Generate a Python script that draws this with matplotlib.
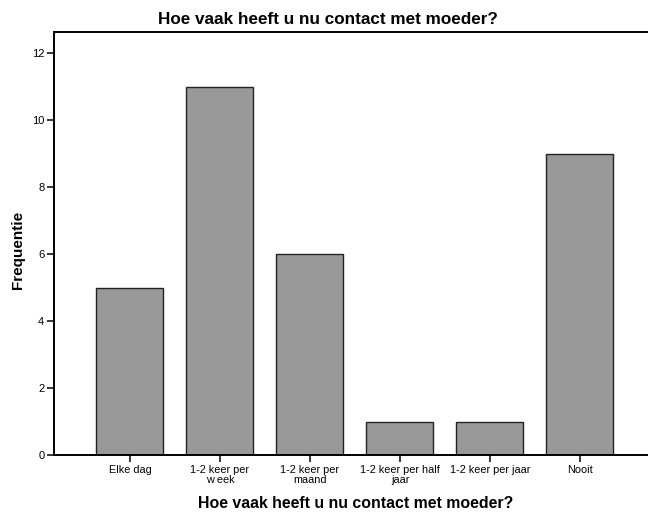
import matplotlib.pyplot as plt
import numpy as np

plt.rcParams["font.family"] = ["Liberation Sans", "DejaVu Sans"]

categories = ["Elke dag", "1-2 keer per\nw eek", "1-2 keer per\nmaand",
              "1-2 keer per half\njaar", "1-2 keer per jaar", "Nooit"]
counts = [5, 11, 6, 1, 1, 9]
yticks = [0, 2, 4, 6, 8, 10, 12]

title = "Hoe vaak heeft u nu contact met moeder?"

W, H = 648, 516
fig = plt.figure(figsize=(W / 100, H / 100), dpi=100, facecolor="white")
ax = fig.add_axes([54 / W, (H - 455) / H, (W - 54) / W, (455 - 32) / H])

x = np.arange(len(categories))
ax.bar(x, counts, width=0.744, color="#999999", edgecolor="#222222", linewidth=1.0)

ax.set_xlim(-0.844, 5.756)
ax.set_ylim(0, 12.63)
ax.set_xticks(x)
ax.set_xticklabels(categories, fontsize=7.8, linespacing=1.0)
ax.set_yticks(yticks)
ax.set_yticklabels([str(t) for t in yticks], fontsize=8)
ax.tick_params(axis="both", direction="out", length=5, width=1.1, colors="black", pad=2)

for side in ["left", "bottom", "top"]:
    ax.spines[side].set_linewidth(1.4)
ax.spines["right"].set_visible(False)

fig.text(328 / W, 1 - 19 / H, title, ha="center", va="center",
         fontsize=12.3, fontweight="bold")
fig.text(356 / W, 1 - 503 / H, title, ha="center", va="center",
         fontsize=11.4, fontweight="bold")
fig.text(18 / W, 1 - 250 / H, "Frequentie", ha="center", va="center",
         rotation=90, fontsize=11, fontweight="bold")

fig.savefig("out.png", dpi=100, facecolor="white")
